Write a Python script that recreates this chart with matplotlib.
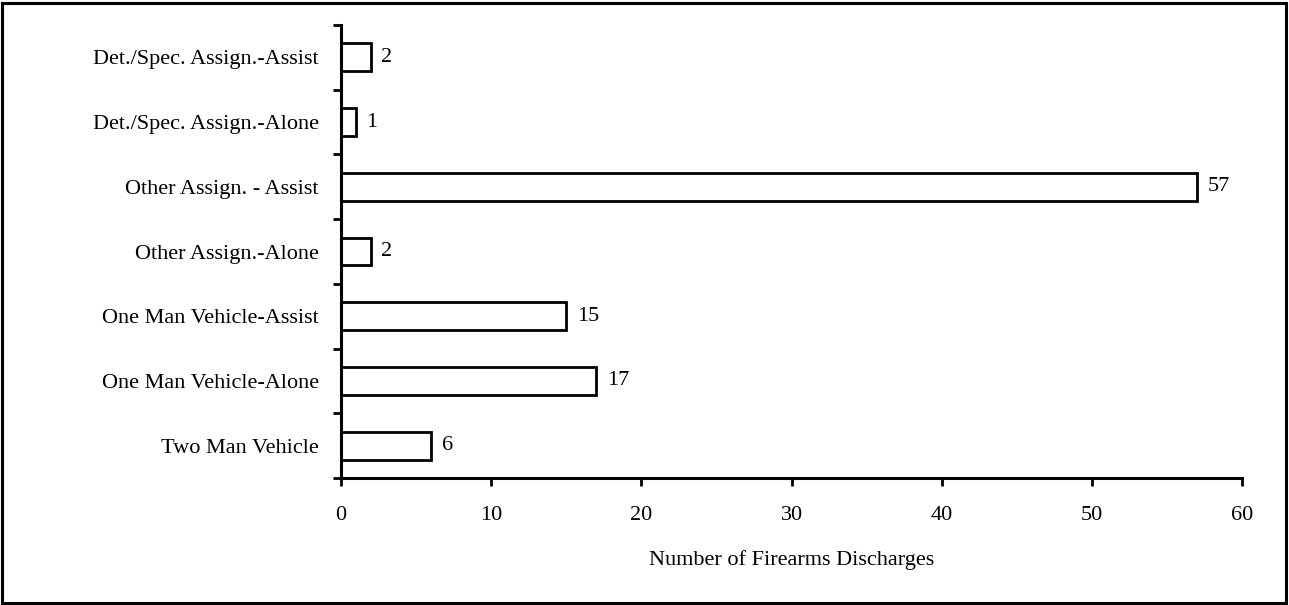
import matplotlib
matplotlib.use("Agg")
import matplotlib.pyplot as plt
from matplotlib.patches import Rectangle
import numpy as np

categories = ["Two Man Vehicle", "One Man Vehicle-Alone", "One Man Vehicle-Assist",
              "Other Assign.-Alone", "Other Assign. - Assist", "Det./Spec. Assign.-Alone",
              "Det./Spec. Assign.-Assist"]
values = [6, 17, 15, 2, 57, 1, 2]
xticks = [0, 10, 20, 30, 40, 50, 60]
xlabel = "Number of Firearms Discharges"

plt.rcParams['font.family'] = ['Liberation Serif', 'DejaVu Serif']
fs = 16

fig = plt.figure(figsize=(12.89, 6.05), dpi=100)
ax = fig.add_axes([341/1289, 1-478/605, (1242-341)/1289, (478-25)/605])

y = np.arange(len(categories))
ax.barh(y, values, height=0.43, color="white", edgecolor="black", linewidth=2.0)
for yi, v in zip(y, values):
    ax.annotate(str(v), (v, yi), xytext=(7.5, 0), textcoords="offset points",
                va="center", ha="left", fontsize=fs)

ax.set_xlim(0, 60)
ax.set_ylim(-0.5, len(categories) - 0.5)
ax.set_xticks(xticks)
ax.set_xticklabels([str(t) for t in xticks], fontsize=fs)
ax.set_yticks(y)
ax.set_yticklabels(categories, fontsize=fs)
ax.set_yticks(np.arange(-0.5, len(categories)), minor=True)
ax.tick_params(axis="y", which="major", length=0, pad=16)
ax.tick_params(axis="y", which="minor", length=6, width=2, direction="out")
ax.tick_params(axis="x", which="major", length=6, width=2, direction="out", pad=14)
for s in ["top", "right"]:
    ax.spines[s].set_visible(False)
for s in ["left", "bottom"]:
    ax.spines[s].set_linewidth(2.2)
ax.set_xlabel(xlabel, fontsize=fs, labelpad=18)

fig.patches.append(Rectangle((2/1289, 2/605), 1-5/1289, 1-5/605, transform=fig.transFigure,
                             fill=False, edgecolor="black", linewidth=2.2))

fig.savefig("out.png", dpi=100)
